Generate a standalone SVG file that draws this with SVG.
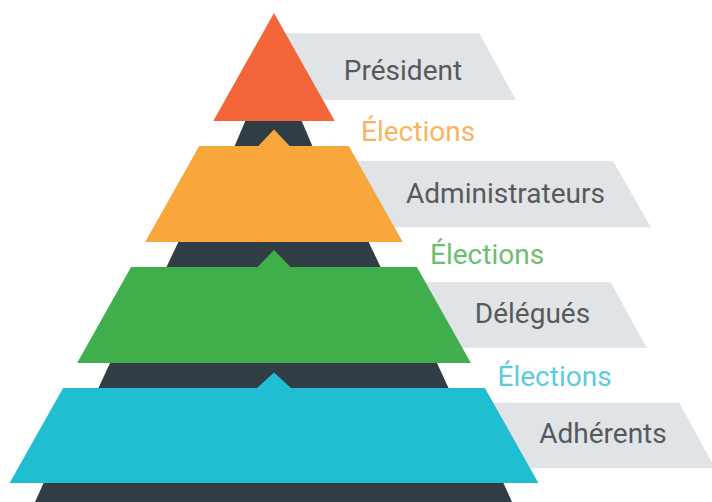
<svg xmlns="http://www.w3.org/2000/svg" width="712" height="502" viewBox="0 0 712 502">
  <style>
    .banner { fill: #E1E4E7; }
    .dark { fill: #303D44; }
    .lbl { font-family: Roboto, "Liberation Sans", sans-serif; font-size: 28px; fill: #58595B; text-anchor: middle; }
    .el { font-family: Roboto, "Liberation Sans", sans-serif; font-size: 28px; text-anchor: start; }
  </style>
  <rect width="712" height="502" fill="#FFFFFF"/>

  <g id="banners">
    <polygon class="banner" points="270,33.3 479.3,33.3 516,100 270,100"/>
    <polygon class="banner" points="300,161 613,161 651,227.3 300,227.3"/>
    <polygon class="banner" points="380,282.3 610.7,282.3 646.7,347.7 380,347.7"/>
    <polygon class="banner" points="440,402.7 679.3,402.7 715,468.3 440,468.3"/>
  </g>

  <g id="connectors">
    <polygon class="dark" points="245.7,120 301.3,120 312.8,147 234.2,147"/>
    <polygon class="dark" points="178.8,241 368.2,241 381,268 166,268"/>
    <polygon class="dark" points="110.5,362 436.5,362 449,389 98,389"/>
    <polygon class="dark" points="44,482 503,482 512,502 35,502"/>
  </g>

  <g id="president">
    <polygon fill="#F26538" points="274,13 334.75,121 213.25,121"/>
    <text class="lbl" x="403" y="80">Président</text>
  </g>

  <g id="administrateurs">
    <polygon fill="#F9A73C" points="199.2,146 258.3,146 274,129.5 289.7,146 348.8,146 402.8,242 145.2,242"/>
    <text class="el" x="361" y="141" fill="#FAB35F">Élections</text>
    <text class="lbl" x="505.5" y="202.5">Administrateurs</text>
  </g>

  <g id="delegues">
    <polygon fill="#40AF4B" points="131.1,267 257.5,267 274,250 290.5,267 416.9,267 470.9,363 77.1,363"/>
    <text class="el" x="430" y="263.5" fill="#6CBF6E">Élections</text>
    <text class="lbl" x="532.5" y="323.3">Délégués</text>
  </g>

  <g id="adherents">
    <polygon fill="#20BED3" points="63.1,388 257,388 274,372.5 291,388 484.9,388 538.4,483 9.6,483"/>
    <text class="el" x="497.5" y="385.7" fill="#5DCBDA">Élections</text>
    <text class="lbl" x="603" y="443.4">Adhérents</text>
  </g>
</svg>
